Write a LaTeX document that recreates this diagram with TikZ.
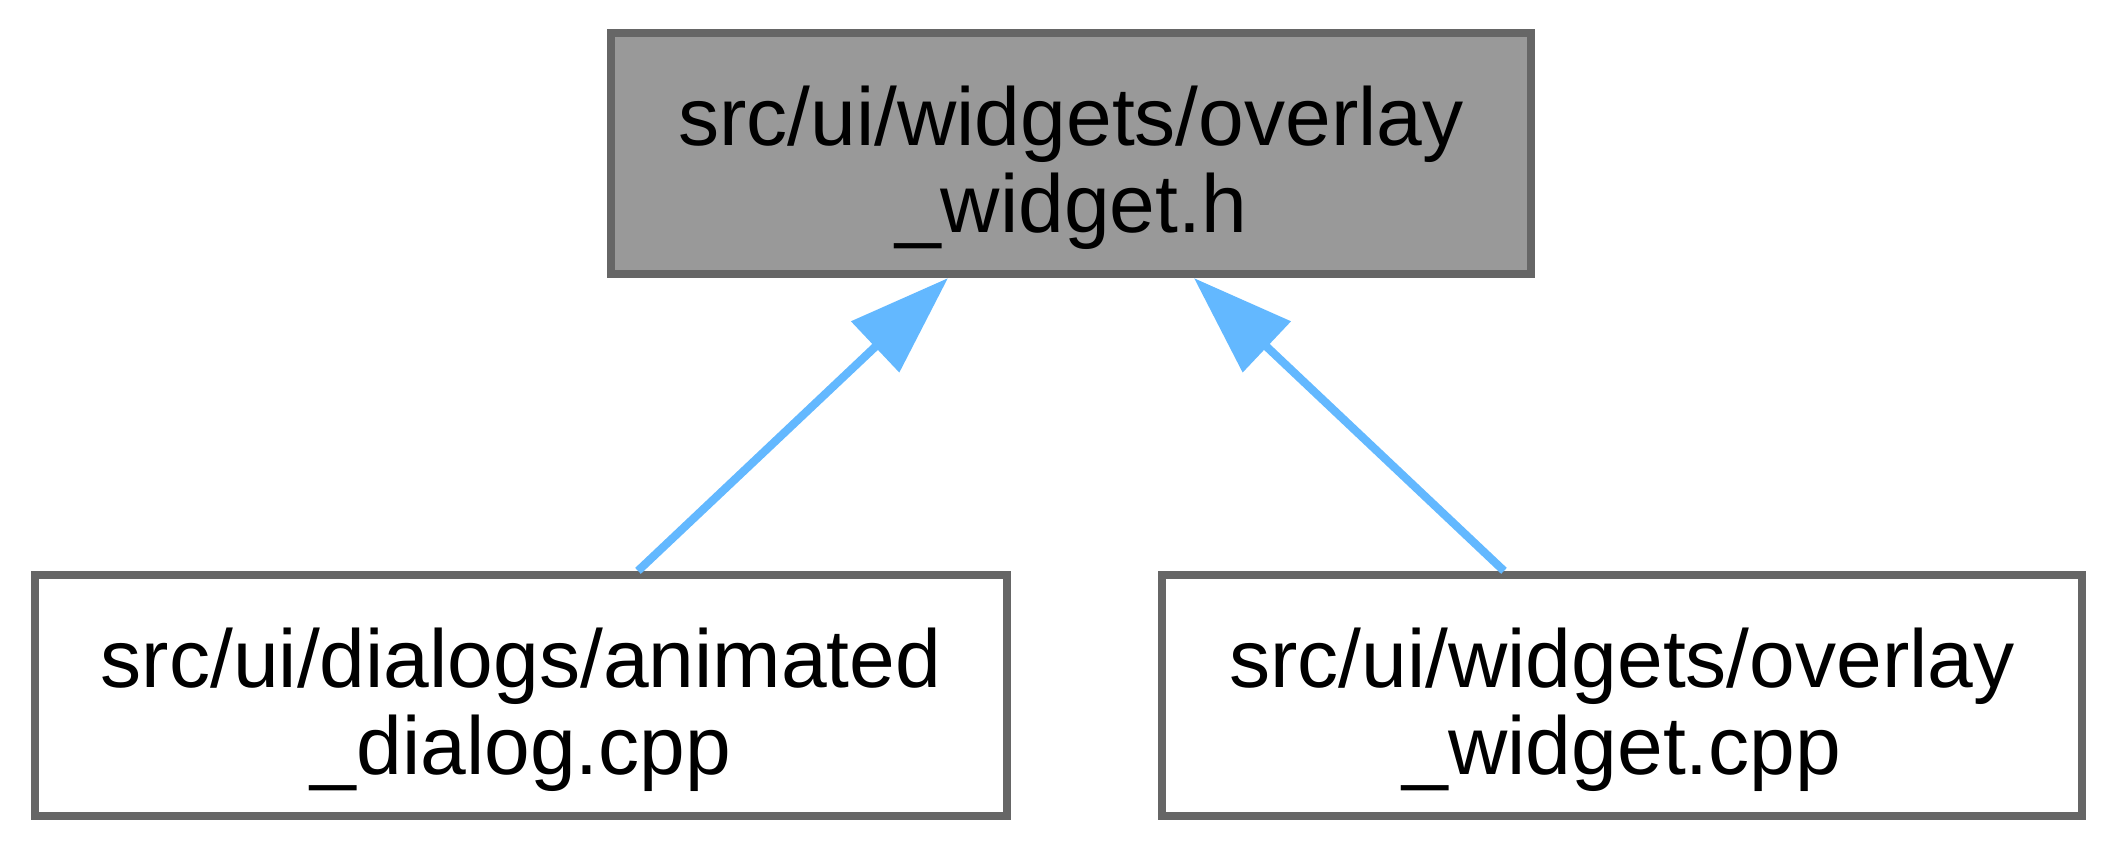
\documentclass[tikz,border=0pt]{standalone}
\usepackage{fontspec}
\setmainfont{Liberation Sans}
\usetikzlibrary{arrows.meta,calc}
\definecolor{bordergray}{HTML}{666666}
\definecolor{fillgray}{HTML}{999999}
\definecolor{edgeblue}{HTML}{63B8FF}
\begin{document}
\begin{tikzpicture}[x=0.1217pt,y=-0.1217pt,
  box/.style={rectangle, draw=bordergray, line width=1pt, inner sep=0pt,
    minimum width=#1, minimum height=29.33pt},
  lbl/.style={anchor=base, inner sep=0pt, font=\fontsize{10}{12}\selectfont},
  edge/.style={draw=edgeblue, line width=1pt,
    -{Triangle[length=12.2pt,width=8.3pt]}}]
\useasboundingbox (0,0) rectangle (2117,850);
% boxes
\node[box=111.96pt, fill=fillgray] (top) at (1071,153.5) {};
\node[box=118.29pt, fill=white] (left) at (521,695.5) {};
\node[box=111.96pt, fill=white] (right) at (1622,695.5) {};
% labels
\node[lbl] (topA) at (1071,146) {src/ui/widgets/overlay};
\node[lbl] (topB) at (1071,233) {\_widget.h};
\node[lbl] (leftA) at (521,688) {src/ui/dialogs/animated};
\node[lbl] (leftB) at (521,775) {\_dialog.cpp};
\node[lbl] (rightA) at (1622,688) {src/ui/widgets/overlay};
\node[lbl] (rightB) at (1622,775) {\_widget.cpp};
% connector ends
\coordinate (e1s) at ($(left.north)+(117,0)$);
\coordinate (e1t) at ($(top.south)+(-123,0)$);
\coordinate (e2s) at ($(right.north)+(-118,0)$);
\coordinate (e2t) at ($(top.south)+(123,0)$);
\draw[edge] (e1s) -- (e1t);
\draw[edge] (e2s) -- (e2t);
\end{tikzpicture}
\end{document}
